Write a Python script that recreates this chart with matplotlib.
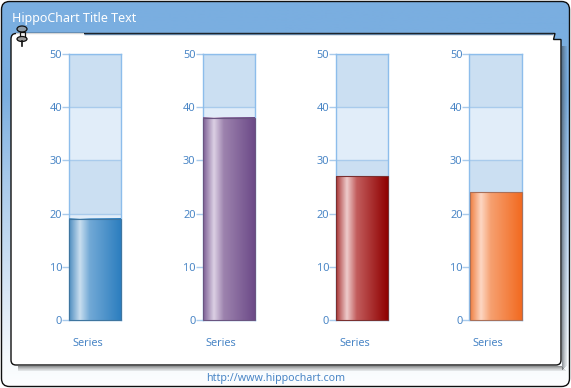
import numpy as np
import matplotlib
matplotlib.use("Agg")
import matplotlib.pyplot as plt
from matplotlib.colors import LinearSegmentedColormap
from matplotlib.patches import FancyBboxPatch, PathPatch, Ellipse, Rectangle
from matplotlib.path import Path

# ---- data ----
categories = ["Series", "Series", "Series", "Series"]
values = [19, 38, 27, 24]
y_ticks = [0, 10, 20, 30, 40, 50]
title_text = "HippoChart Title Text"
footer_text = "http://www.hippochart.com"

# ---- style ----
W, H = 571, 388
FONT = "Noto Sans"
TEXT = "#4a86c6"
AX_LEFT = [69, 202.5, 336, 469.5]
AX_W = 52
AX_TOP, AX_BOT = 54, 320
BAND_DARK, BAND_LIGHT = "#cbdff2", "#e1edf9"
GRID = "#a9cbec"
SPINE = "#8dbdeb"
STOPS = [0, 0.21, 0.40, 1]
GRADS = [
    ["#4d8cbf", "#c9deef", "#72a9d6", "#2c7ebf"],
    ["#7b5e94", "#dcd0e4", "#9d83ae", "#6c4a88"],
    ["#a93434", "#eecccc", "#c25c5c", "#8f0000"],
    ["#ef7d3e", "#fdd7c3", "#f6a070", "#f26a20"],
]
EDGES = ["#3f759f", "#6a5580", "#7a3030", "#a8705a"]

fig = plt.figure(figsize=(W / 100, H / 100), dpi=100, facecolor="white")


def px_axes(l, t, w, h):
    return fig.add_axes([l / W, 1 - (t + h) / H, w / W, h / H])


# ---- frame in pixel coordinates ----
bg = fig.add_axes([0, 0, 1, 1], zorder=0)
bg.set_xlim(0, W)
bg.set_ylim(H, 0)
bg.axis("off")

frame_cmap = LinearSegmentedColormap.from_list(
    "frame", [(0, "#7aaee0"), (0.24, "#7aaee0"), (0.45, "#a6c8ea"),
              (0.75, "#d8e7f6"), (0.93, "#f6fafd"), (1, "#fdfeff")])
outer = FancyBboxPatch((1.5, 1.5), 568, 385, boxstyle="round,pad=0,rounding_size=8",
                       fc="none", ec="none", transform=bg.transData)
bg.add_patch(outer)
im = bg.imshow(np.linspace(0, 1, 256).reshape(-1, 1), cmap=frame_cmap, aspect="auto",
               extent=(0, W, H, 0), zorder=1)
im.set_clip_path(outer)
bg.set_xlim(0, W)
bg.set_ylim(H, 0)
bg.add_patch(FancyBboxPatch((1.5, 1.5), 568, 385, boxstyle="round,pad=0,rounding_size=8",
                            fc="none", ec="#101010", lw=1.0, zorder=6))

# shadow, right and bottom
for i, a in enumerate([0.55, 0.42, 0.30, 0.2, 0.12]):
    bg.add_patch(Rectangle((562 + i, 46), 1, 324 - i, fc="#404850", ec="none", alpha=a, zorder=2))
    bg.add_patch(Rectangle((18, 365.5 + i), 544 + i, 1, fc="#404040", ec="none", alpha=a, zorder=2))

# panel with the notch at the top right
panel_verts = [(16, 33.5), (555, 33.5), (553.5, 39.5), (561, 39.5), (561, 360),
               (561, 365), (556, 365), (16, 365), (11, 365), (11, 360),
               (11, 39), (11, 33.5), (16, 33.5), (16, 33.5)]
panel_codes = [Path.MOVETO, Path.LINETO, Path.LINETO, Path.LINETO, Path.LINETO,
               Path.CURVE3, Path.CURVE3, Path.LINETO, Path.CURVE3, Path.CURVE3,
               Path.LINETO, Path.CURVE3, Path.CURVE3, Path.CLOSEPOLY]
bg.add_patch(PathPatch(Path(panel_verts, panel_codes), fc="white", ec="#101010", lw=1.0, zorder=3))
# the top edge is only a soft grey line, and absent near the pin
bg.plot([16, 84], [33.5, 33.5], color="white", lw=1.2, zorder=4, solid_capstyle="butt")
bg.plot([84, 553], [33.5, 33.5], color="#5f7f9f", lw=1.0, zorder=4, solid_capstyle="butt")

# pin
bg.add_patch(Ellipse((22, 29), 10, 6, fc="#8d9aa5", ec="#101010", lw=0.9, zorder=7))
bg.add_patch(Rectangle((19.5, 32), 5, 6, fc="#f2f2f2", ec="#101010", lw=0.9, zorder=7))
bg.add_patch(Ellipse((22, 39), 10, 5, fc="#9a9a9a", ec="#101010", lw=0.9, zorder=7))
bg.plot([21.5, 21.5], [41, 46], color="#101010", lw=1.2, zorder=7)

bg.text(12, 18.5, title_text, color="white", fontsize=9, family=FONT, va="center", ha="left", zorder=8)
bg.text(275.5, 378, footer_text, color=TEXT, fontsize=7.7, family=FONT, va="center", ha="center", zorder=8)

# ---- four gauges ----
for i, (name, val) in enumerate(zip(categories, values)):
    ax = px_axes(AX_LEFT[i], AX_TOP, AX_W, AX_BOT - AX_TOP)
    ax.set_zorder(5)
    ax.set_xlim(-0.5, 0.5)
    ax.set_ylim(y_ticks[0], y_ticks[-1])

    for j in range(len(y_ticks) - 1):
        ax.axhspan(y_ticks[j], y_ticks[j + 1], color=BAND_DARK if j % 2 == 0 else BAND_LIGHT,
                   lw=0, zorder=1)
    ax.set_yticks(y_ticks)
    ax.yaxis.grid(True, color=GRID, lw=1.0, zorder=2)
    ax.xaxis.grid(False)

    bar = ax.bar(0, val, width=1.0, fc="none", ec=EDGES[i], lw=0.8, zorder=4, clip_on=False)[0]
    cmap = LinearSegmentedColormap.from_list(f"g{i}", list(zip(STOPS, GRADS[i])))
    img = ax.imshow(np.linspace(0, 1, 256).reshape(1, -1), cmap=cmap, aspect="auto",
                    extent=(bar.get_x(), bar.get_x() + bar.get_width(), 0, bar.get_height()), zorder=3)
    ax.set_xlim(-0.5, 0.5)
    ax.set_ylim(y_ticks[0], y_ticks[-1])

    # category label sits left of the bar centre, as in the source
    ax.set_xticks([-7.5 / AX_W])
    ax.set_xticklabels([name], color=TEXT, fontsize=7.9, family=FONT)
    ax.tick_params(axis="x", length=0, pad=13)
    ax.tick_params(axis="y", length=5, width=1.0, color=GRID, labelcolor=TEXT,
                   labelsize=7.9, pad=0)
    for lab in ax.get_yticklabels():
        lab.set_family(FONT)
    for s in ax.spines.values():
        s.set_color(SPINE)
        s.set_linewidth(1.0)

fig.savefig("out.png", dpi=100)
